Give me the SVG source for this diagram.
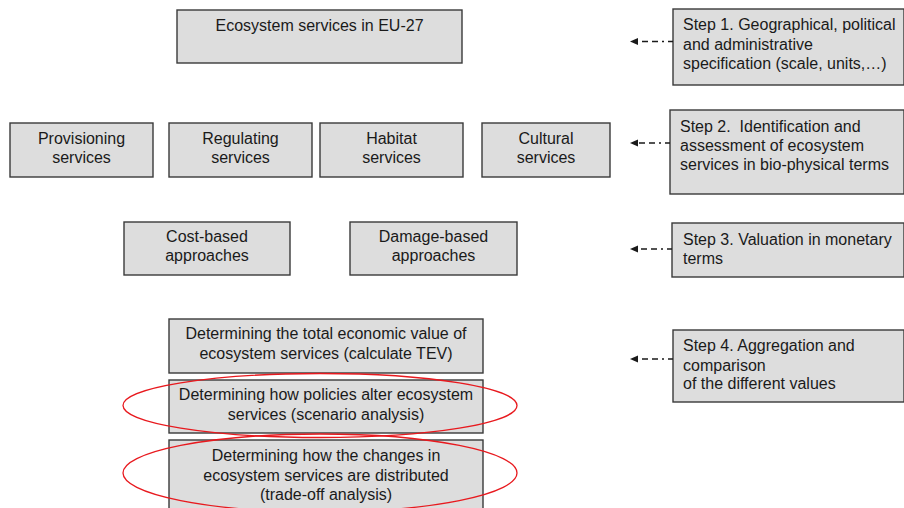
<svg xmlns="http://www.w3.org/2000/svg" width="904" height="508" viewBox="0 0 904 508">
  <style>
    .box { fill: #dddddd; stroke: #3a3a3a; stroke-width: 1.4; }
    .t { font-family: "Liberation Sans", Arial, sans-serif; font-size: 16px; fill: #1a1a1a; }
    .c { text-anchor: middle; }
    .l { text-anchor: start; white-space: pre; }
    .link { fill: none; stroke: #1a1a1a; stroke-width: 1.5; stroke-dasharray: 5 4 2 4 6 4 6 5; }
    .ring { fill: none; stroke: #e8191e; stroke-width: 1.3; }
  </style>
  <defs>
    <marker id="head" markerUnits="userSpaceOnUse" markerWidth="9" markerHeight="8" refX="1" refY="3.5" orient="auto">
      <path d="M0,0 L8,3.5 L0,7 z" fill="#1a1a1a"/>
    </marker>
  </defs>

  <!-- framework nodes -->
  <g id="eu27">
    <rect class="box" x="177" y="10" width="285" height="53"/>
    <text class="t c" x="319.5" y="31">Ecosystem services in EU-27</text>
  </g>

  <g id="provisioning">
    <rect class="box" x="10" y="123" width="143" height="54"/>
    <text class="t c" x="81.5" y="144">Provisioning</text>
    <text class="t c" x="81.5" y="163">services</text>
  </g>
  <g id="regulating">
    <rect class="box" x="169" y="123" width="143" height="54"/>
    <text class="t c" x="240.5" y="144">Regulating</text>
    <text class="t c" x="240.5" y="163">services</text>
  </g>
  <g id="habitat">
    <rect class="box" x="320" y="123" width="143" height="54"/>
    <text class="t c" x="391.5" y="144">Habitat</text>
    <text class="t c" x="391.5" y="163">services</text>
  </g>
  <g id="cultural">
    <rect class="box" x="482" y="123" width="128" height="54"/>
    <text class="t c" x="546" y="144">Cultural</text>
    <text class="t c" x="546" y="163">services</text>
  </g>

  <g id="cost-based">
    <rect class="box" x="124" y="222" width="166" height="53"/>
    <text class="t c" x="207" y="242">Cost-based</text>
    <text class="t c" x="207" y="261">approaches</text>
  </g>
  <g id="damage-based">
    <rect class="box" x="350" y="222" width="167" height="53"/>
    <text class="t c" x="433.5" y="242">Damage-based</text>
    <text class="t c" x="433.5" y="261">approaches</text>
  </g>

  <g id="tev">
    <rect class="box" x="169" y="319" width="314" height="54"/>
    <text class="t c" x="326" y="339">Determining the total economic value of</text>
    <text class="t c" x="326" y="359">ecosystem services (calculate TEV)</text>
  </g>
  <g id="scenario">
    <rect class="box" x="169" y="380" width="314" height="53"/>
    <text class="t c" x="326" y="400">Determining how policies alter ecosystem</text>
    <text class="t c" x="326" y="420">services (scenario analysis)</text>
  </g>
  <g id="trade-off">
    <rect class="box" x="169" y="440" width="314" height="80"/>
    <text class="t c" x="326" y="461">Determining how the changes in</text>
    <text class="t c" x="326" y="481">ecosystem services are distributed</text>
    <text class="t c" x="326" y="500">(trade-off analysis)</text>
  </g>

  <!-- highlight rings -->
  <g id="highlights">
    <ellipse class="ring" cx="320" cy="405.5" rx="197" ry="32"/>
    <ellipse class="ring" cx="320" cy="473" rx="197" ry="39"/>
  </g>

  <!-- step nodes -->
  <g id="step1">
    <rect class="box" x="673" y="9" width="231" height="76"/>
    <text class="t l" x="683" y="30">Step 1. Geographical, political</text>
    <text class="t l" x="683" y="50">and administrative</text>
    <text class="t l" x="683" y="69">specification (scale, units,…)</text>
  </g>
  <g id="step2">
    <rect class="box" x="670" y="110" width="234" height="84"/>
    <text class="t l" x="680" y="132">Step 2.  Identification and</text>
    <text class="t l" x="680" y="151">assessment of ecosystem</text>
    <text class="t l" x="680" y="170">services in bio-physical terms</text>
  </g>
  <g id="step3">
    <rect class="box" x="672" y="223" width="232" height="54"/>
    <text class="t l" x="683" y="245">Step 3. Valuation in monetary</text>
    <text class="t l" x="683" y="264">terms</text>
  </g>
  <g id="step4">
    <rect class="box" x="673" y="330" width="231" height="72"/>
    <text class="t l" x="683" y="351">Step 4. Aggregation and</text>
    <text class="t l" x="683" y="371">comparison</text>
    <text class="t l" x="683" y="389">of the different values</text>
  </g>

  <!-- connectors -->
  <g id="connectors">
    <path class="link" d="M673,41.5 L637,41.5" marker-end="url(#head)"/>
    <path class="link" d="M670,143 L637,143" marker-end="url(#head)"/>
    <path class="link" d="M672,249 L637,249" marker-end="url(#head)"/>
    <path class="link" d="M673,359 L637,359" marker-end="url(#head)"/>
  </g>
</svg>
